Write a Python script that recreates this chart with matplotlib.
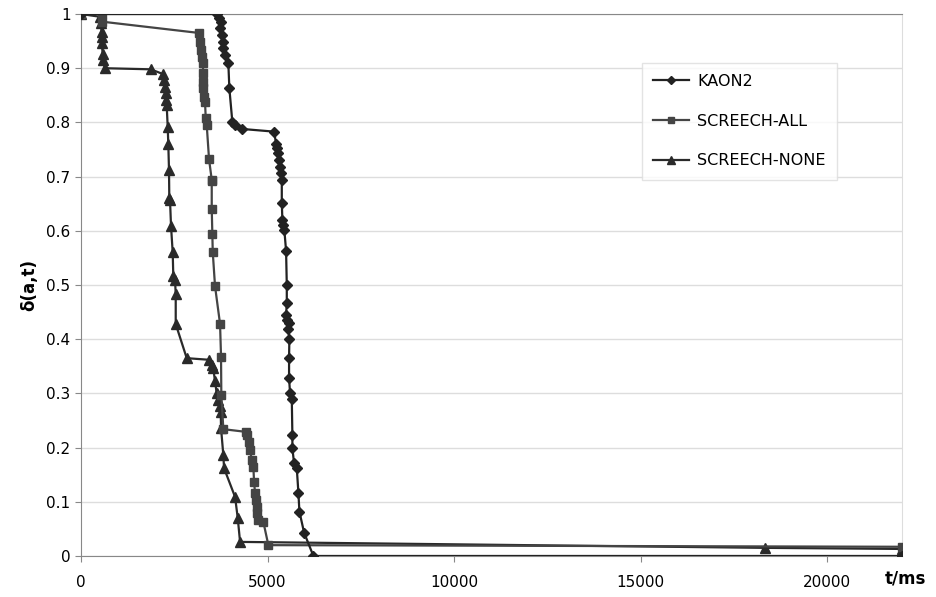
import matplotlib
matplotlib.use("Agg")
import matplotlib.pyplot as plt

# KAON2
kaon_t = [0, 3654, 3708, 3745, 3727, 3772, 3799, 3815, 3861, 3949, 3976, 4056, 4129, 4308,
          5174, 5228, 5263, 5290, 5316, 5335, 5362, 5381, 5381, 5397, 5424, 5450, 5496,
          5515, 5515, 5496, 5531, 5584, 5558, 5584, 5576, 5576, 5603, 5649, 5665, 5665,
          5710, 5783, 5826, 5853, 5979, 6228, 22000]
kaon_d = [1.0, 1.0, 0.992, 0.986, 0.974, 0.961, 0.949, 0.937, 0.924, 0.909, 0.863, 0.801, 0.796, 0.788,
          0.783, 0.761, 0.752, 0.743, 0.731, 0.718, 0.706, 0.694, 0.652, 0.620, 0.611, 0.601, 0.563,
          0.500, 0.466, 0.445, 0.435, 0.430, 0.418, 0.400, 0.365, 0.328, 0.300, 0.289, 0.223, 0.199,
          0.171, 0.162, 0.117, 0.082, 0.043, 0.0, 0.0]

# SCREECH-ALL
all_t = [0, 555, 555, 3172, 3190, 3209, 3236, 3279, 3263, 3263, 3279, 3306, 3324, 3343, 3370,
         3432, 3504, 3504, 3504, 3520, 3531, 3592, 3727, 3753, 3761, 3815, 4424, 4458, 4512,
         4531, 4576, 4619, 4638, 4665, 4692, 4710, 4726, 4753, 4887, 5021, 22000]
all_d = [1.0, 1.0, 0.986, 0.965, 0.949, 0.934, 0.921, 0.909, 0.891, 0.875, 0.863, 0.847, 0.838, 0.808, 0.795,
         0.732, 0.694, 0.691, 0.641, 0.595, 0.561, 0.498, 0.428, 0.368, 0.297, 0.234, 0.229, 0.223, 0.211,
         0.196, 0.177, 0.165, 0.137, 0.116, 0.103, 0.091, 0.079, 0.066, 0.063, 0.020, 0.017]

# SCREECH-NONE
none_t = [0, 509, 528, 555, 555, 555, 582, 582, 643, 1869, 2206, 2233, 2252, 2271, 2279, 2297,
          2324, 2340, 2359, 2367, 2386, 2413, 2458, 2474, 2520, 2539, 2539, 2834, 3440, 3504,
          3547, 3592, 3638, 3681, 3727, 3745, 3753, 3815, 3834, 4129, 4201, 4263, 18338, 22000]
none_d = [1.0, 0.995, 0.983, 0.967, 0.958, 0.946, 0.927, 0.915, 0.900, 0.898, 0.889, 0.878, 0.866, 0.854,
          0.841, 0.832, 0.792, 0.761, 0.712, 0.660, 0.657, 0.609, 0.560, 0.517, 0.510, 0.483, 0.428,
          0.365, 0.362, 0.352, 0.346, 0.322, 0.300, 0.288, 0.276, 0.266, 0.236, 0.186, 0.162, 0.109,
          0.070, 0.026, 0.015, 0.013]

fig = plt.figure(figsize=(9.36, 5.97), dpi=100)
ax = fig.add_axes([0.0865, 0.0687, 0.8772, 0.9078])

ax.plot(kaon_t, kaon_d, color="#222222", lw=1.6, marker="D", markersize=5, label="KAON2", zorder=5)
ax.plot(all_t, all_d, color="#444444", lw=1.6, marker="s", markersize=5.5, label="SCREECH-ALL", zorder=4)
ax.plot(none_t, none_d, color="#2a2a2a", lw=1.6, marker="^", markersize=7, label="SCREECH-NONE", zorder=3)

ax.set_xlim(0, 22000)
ax.set_ylim(0, 1)
ax.set_xticks([0, 5000, 10000, 15000, 20000])
ax.set_yticks([i / 10 for i in range(11)])
ax.set_yticklabels(["0", "0.1", "0.2", "0.3", "0.4", "0.5", "0.6", "0.7", "0.8", "0.9", "1"])
ax.grid(axis="y", color="#dddddd", lw=1)
ax.set_axisbelow(True)
ax.tick_params(labelsize=11, colors="#888888", labelcolor="black", length=4)
ax.tick_params(axis="x", pad=10)
for s in ["left", "bottom", "top"]:
    ax.spines[s].set_color("#888888")
ax.spines["right"].set_color("#dddddd")

ax.set_ylabel("δ(a,t)", fontsize=12, fontweight="bold", labelpad=6)
fig.text(0.967, 0.022, "t/ms", fontsize=12, fontweight="bold", ha="center")

leg = ax.legend(loc="upper left", bbox_to_anchor=(0.673, 0.925), fontsize=11.5, frameon=True,
                fancybox=False, edgecolor="#dddddd", handlelength=2.3, labelspacing=1.55,
                borderpad=0.7, markerscale=0.8, handletextpad=0.5)
leg.get_frame().set_linewidth(1)

fig.savefig("out.png", dpi=100)
